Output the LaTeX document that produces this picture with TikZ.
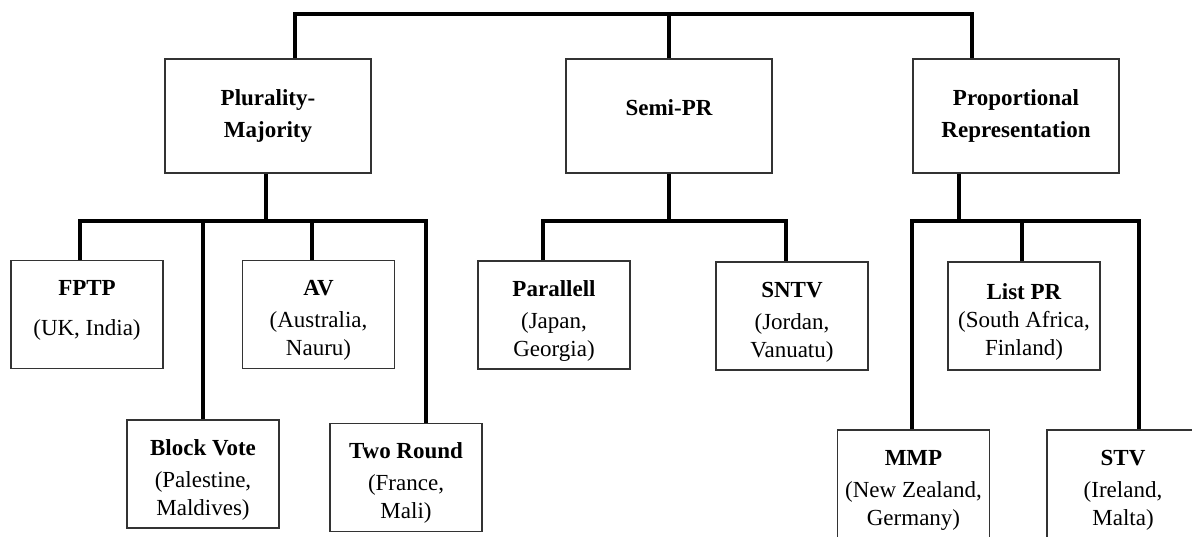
\documentclass[tikz,border=0pt]{standalone}
\usepackage{fontspec}
\setmainfont{Liberation Serif}
\definecolor{boxc}{HTML}{333333}
\newcommand\ttl[1]{\rule{0pt}{27pt}\textbf{#1}}
\tikzset{
  conn/.style={line width=4pt, line join=miter, draw=black},
  parent/.style={draw=boxc, line width=1.5pt, minimum width=206pt, minimum height=114pt,
    inner sep=0pt, align=center, font=\fontsize{23}{32}\selectfont\bfseries},
  child/.style={draw=boxc, line width=1.5pt, minimum width=152pt, minimum height=108pt,
    inner sep=0pt, align=center, font=\fontsize{23}{28}\selectfont},
}
\begin{document}
\begin{tikzpicture}[x=1pt,y=-1pt]
\fill[white] (0,0) rectangle (1192,536);
\useasboundingbox (0,0) rectangle (1192,536);
\begin{scope}
\clip (0,0) rectangle (1192,536);
% bus coordinates
\coordinate (bus) at (0,14);
\coordinate (lowbus) at (0,221);
% parents
\node[parent] (pm) at (268,116) {Plurality-\\Majority};
\node[parent] (sp) at (669,116) {\raisebox{8pt}[\height][\depth]{Semi-PR}};
\node[parent] (pr) at (1016,116) {Proportional\\Representation};
% children
\node[child] (fptp) at (87,314.5) {{\bfseries FPTP}\\[12pt](UK, India)\rule[-13pt]{0pt}{1pt}};
\node[child] (bv) at (203,474) {\ttl{Block Vote}\\[4pt](Palestine,\\Maldives)};
\node[child] (av) at (318.5,314.5) {\ttl{AV}\\[4pt](Australia,\\Nauru)};
\node[child] (tr) at (406,477.5) {\ttl{Two Round}\\[4pt](France,\\Mali)};
\node[child] (par) at (554,315) {\ttl{Parallell}\\[4pt](Japan,\\Georgia)};
\node[child] (sntv) at (792,316) {\ttl{SNTV}\\[4pt](Jordan,\\Vanuatu)};
\node[child] (list) at (1024,316) {\ttl{List PR}\\(South Africa,\\Finland)};
\node[child] (mmp) at (913.5,484) {\ttl{MMP}\\[4pt](New Zealand,\\Germany)};
\node[child] (stv) at (1123,484) {\ttl{STV}\\[4pt](Ireland,\\Malta)};
% top level
\draw[conn] ([xshift=27pt]pm.north) -- ([xshift=27pt]pm.north |- bus)
  -- ([xshift=-44pt]pr.north |- bus) -- ([xshift=-44pt]pr.north);
\draw[conn] (sp.north) -- (sp.north |- bus);
% plurality-majority
\draw[conn] ([xshift=-2pt]pm.south) -- ([xshift=-2pt]pm.south |- lowbus);
\draw[conn] ([xshift=-7pt]fptp.north) -- ([xshift=-7pt]fptp.north |- lowbus)
  -- ([xshift=20pt]tr.north |- lowbus) -- ([xshift=20pt]tr.north);
\draw[conn] (bv.north) -- (bv.north |- lowbus);
\draw[conn] ([xshift=-6.5pt]av.north) -- ([xshift=-6.5pt]av.north |- lowbus);
% semi-PR
\draw[conn] (sp.south) -- (sp.south |- lowbus);
\draw[conn] ([xshift=-11pt]par.north) -- ([xshift=-11pt]par.north |- lowbus)
  -- ([xshift=-6pt]sntv.north |- lowbus) -- ([xshift=-6pt]sntv.north);
% PR
\draw[conn] ([xshift=-57pt]pr.south) -- ([xshift=-57pt]pr.south |- lowbus);
\draw[conn] ([xshift=-1.5pt]mmp.north) -- ([xshift=-1.5pt]mmp.north |- lowbus)
  -- ([xshift=16pt]stv.north |- lowbus) -- ([xshift=16pt]stv.north);
\draw[conn] ([xshift=-2pt]list.north) -- ([xshift=-2pt]list.north |- lowbus);
\end{scope}
\end{tikzpicture}
\end{document}
